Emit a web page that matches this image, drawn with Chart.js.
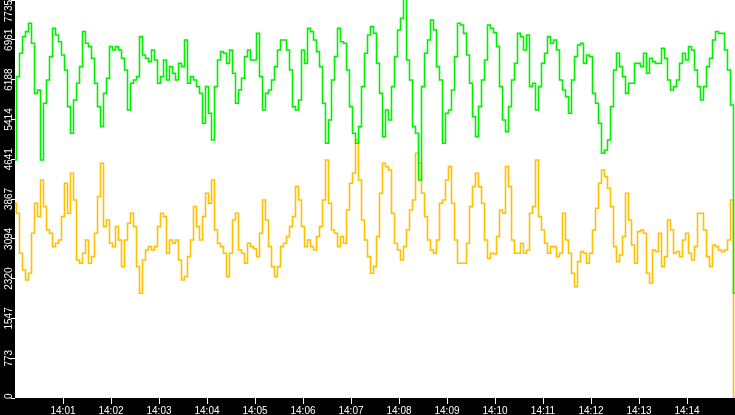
<!DOCTYPE html>
<html>
<head>
<meta charset="utf-8">
<script src="https://cdn.jsdelivr.net/npm/chart.js@4/dist/chart.umd.min.js"></script>
<style>
  html, body { margin: 0; padding: 0; background: #000; }
  #wrap { width: 735px; height: 415px; position: relative; }
</style>
</head>
<body>
<div id="wrap"><canvas id="myChart"></canvas></div>
<script>
// one sample every 3.75 s from 14:00:00 to 14:15:00
const STEP = 3.75;
const START_HOUR = 14;

const greenVals = [
  4626, 6245, 6699, 7023, 7120, 7282, 6893, 5921, 5986, 4626,
  5727, 6180, 6634, 7184, 7055, 6925, 6666, 6375, 5662, 5144,
  5792, 6116, 6440, 7120, 6893, 6828, 6602, 6116, 5662, 5274,
  5921, 6213, 6828, 6763, 6828, 6763, 6602, 6375, 5598, 6116,
  6180, 6245, 7023, 6666, 6602, 6537, 6763, 6569, 6116, 6245,
  6569, 6180, 6440, 6310, 6180, 6504, 6440, 6958, 6116, 6245,
  6180, 6051, 5921, 5339, 6051, 5533, 5015, 6051, 6569, 6731,
  6699, 6504, 6763, 6310, 5727, 5986, 6213, 6634, 6763, 6569,
  6569, 7087, 6245, 5598, 5921, 5986, 6180, 6440, 6763, 6958,
  6958, 6763, 6375, 5662, 5598, 5792, 6763, 6504, 7184, 7120,
  6958, 6731, 6440, 5727, 4950, 5403, 6180, 6634, 7184, 6925,
  6893, 6375, 5662, 5144, 4950, 5274, 6051, 6699, 7055, 7217,
  7087, 6504, 5921, 5079, 5598, 5403, 6051, 6634, 7152, 7379,
  7790, 6569, 6180, 5274, 5144, 4238, 6051, 6699, 6958, 7346,
  7152, 6440, 6180, 4950, 5533, 5598, 5986, 6634, 7282, 7249,
  7087, 6666, 6116, 5468, 5079, 5662, 6180, 6569, 7249, 7184,
  7100, 6828, 6051, 5403, 5176, 5662, 6180, 6504, 7087, 7023,
  6763, 7055, 6051, 6116, 5598, 6051, 6504, 6699, 7023, 6893,
  6958, 6763, 6180, 5986, 5857, 5533, 6180, 6634, 6861, 6893,
  6504, 6666, 6634, 5921, 5727, 5339, 4756, 4820, 5015, 5662,
  6375, 6699, 6440, 6245, 5921, 6116, 6116, 6504, 6504, 6440,
  6699, 6310, 6602, 6537, 6504, 6504, 6796, 6602, 6180, 5986,
  6051, 6180, 6504, 6699, 6569, 6828, 6763, 6375, 6051, 5792,
  6051, 6440, 6602, 6958, 7120, 7087, 7087, 6763, 6375, 5695,
  2035
];

const yellowVals = [
  3784, 3590, 2813, 2489, 2294, 2424, 3201, 3784, 3525, 4238,
  3719, 3266, 3201, 2942, 3007, 3072, 3525, 4173, 3590, 4367,
  3849, 2683, 2618, 2813, 3072, 2618, 2748, 3201, 3914, 4561,
  3331, 3460, 3007, 2942, 3331, 3072, 2554, 3072, 3395, 3590,
  3331, 2554, 2035, 2683, 2877, 2942, 2877, 2942, 3331, 3590,
  3525, 2813, 3072, 3007, 3072, 2683, 2294, 2359, 2748, 3072,
  3719, 3331, 3072, 3525, 3978, 3784, 4238, 3266, 3007, 2942,
  2813, 2359, 2813, 3460, 3590, 2877, 2813, 2618, 3007, 2942,
  2900, 2748, 3201, 3849, 3460, 2942, 2554, 2359, 2554, 2942,
  3007, 3136, 3331, 3525, 4108, 3849, 3331, 2942, 3072, 2942,
  2877, 3136, 3331, 3849, 4626, 3784, 3266, 3201, 2942, 3136,
  3007, 3655, 4173, 4367, 5015, 4238, 3460, 3072, 2748, 2424,
  2554, 3136, 3978, 4561, 4497, 4432, 3590, 3007, 2877, 2683,
  2942, 3266, 3655, 3849, 4756, 4561, 3978, 3525, 3072, 2877,
  2813, 3072, 3784, 3849, 4238, 4497, 3784, 3072, 2618, 2618,
  2618, 3007, 3719, 4108, 4367, 4108, 3784, 3072, 2716, 2813,
  2800, 3136, 3655, 3590, 4497, 4108, 3072, 2813, 2813, 3007,
  2813, 2877, 3590, 3719, 4626, 3525, 3266, 3007, 2813, 2942,
  2942, 2748, 2813, 3590, 3072, 2813, 2424, 2165, 2651, 2845,
  2813, 2618, 2813, 3266, 3687, 4173, 4432, 4302, 4076, 3719,
  2942, 2651, 2780, 3136, 3978, 3460, 2974, 2618, 3234, 3266,
  3201, 2424, 2230, 2877, 2845, 3201, 2554, 2748, 3460, 3266,
  2813, 2845, 2748, 3072, 3201, 2813, 2683, 2942, 3590, 3590,
  3266, 2748, 2554, 2974, 2942, 2877, 2845, 2877, 3072, 3849,
  0
];

const yMax = 7735;
const yStep = 773.5;

const toPoints = vals => vals.map((v, i) => ({ x: i * STEP, y: v }));

const ctx = document.getElementById('myChart');

const bgPlugin = {
  id: 'bg',
  beforeDraw(chart) {
    const c = chart.ctx, a = chart.chartArea;
    c.save();
    c.fillStyle = '#000';
    c.fillRect(0, 0, chart.width, chart.height);
    c.fillStyle = '#fff';
    c.fillRect(a.left, a.top, a.right - a.left, a.bottom - a.top);
    c.restore();
  }
};

// rotated y labels, kept inside the plot height like the original
const yLabels = {
  id: 'yLabels',
  afterDraw(chart) {
    const c = chart.ctx, a = chart.chartArea, s = chart.scales.y;
    c.save();
    c.font = '10px "Liberation Sans", Arial, sans-serif';
    c.fillStyle = '#fff';
    c.textAlign = 'center';
    c.textBaseline = 'alphabetic';
    s.ticks.forEach(t => {
      const txt = String(Math.floor(t.value + 0.01));
      const w = c.measureText(txt).width;
      let y = s.getPixelForValue(t.value);
      y = Math.min(Math.max(y, a.top + w / 2), a.bottom + 1 - w / 2);
      c.save();
      c.translate(11.5, y);
      c.rotate(-Math.PI / 2);
      c.fillText(txt, 0, 0);
      c.restore();
    });
    c.restore();
  }
};

new Chart(ctx, {
  type: 'line',
  plugins: [bgPlugin, yLabels],
  data: {
    datasets: [
      {
        data: toPoints(greenVals),
        borderColor: 'rgb(0, 240, 0)',
        borderWidth: 1.6,
        pointRadius: 0,
        stepped: 'middle',
      },
      {
        data: toPoints(yellowVals),
        borderColor: 'rgb(255, 192, 0)',
        borderWidth: 1.6,
        pointRadius: 0,
        stepped: 'middle',
      },
    ]
  },
  options: {
    responsive: true,
    maintainAspectRatio: false,
    animation: false,
    events: [],
    layout: { padding: 0 },
    plugins: {
      legend: { display: false },
      tooltip: { enabled: false },
    },
    scales: {
      x: {
        type: 'linear',
        min: 0,
        max: 900,
        border: { display: false },
        grid: { drawOnChartArea: false, drawTicks: true, tickLength: 6, color: '#fff' },
        ticks: {
          stepSize: 60,
          autoSkip: false,
          maxRotation: 0,
          padding: 1,
          color: '#fff',
          font: { family: '"Liberation Sans", Arial, sans-serif', size: 10 },
          callback: v => START_HOUR + ':' + String(Math.round(v / 60)).padStart(2, '0'),
        },
        afterBuildTicks: s => { s.ticks = s.ticks.filter(t => t.value > 0 && t.value < 900); },
        afterFit: s => { s.height = 17; },
      },
      y: {
        min: 0,
        max: yMax,
        border: { display: false },
        grid: { drawOnChartArea: false, drawTicks: true, tickLength: 4, color: '#fff' },
        ticks: { stepSize: yStep, display: false },
        afterFit: s => { s.width = 15; },
      }
    }
  }
});
</script>
</body>
</html>
